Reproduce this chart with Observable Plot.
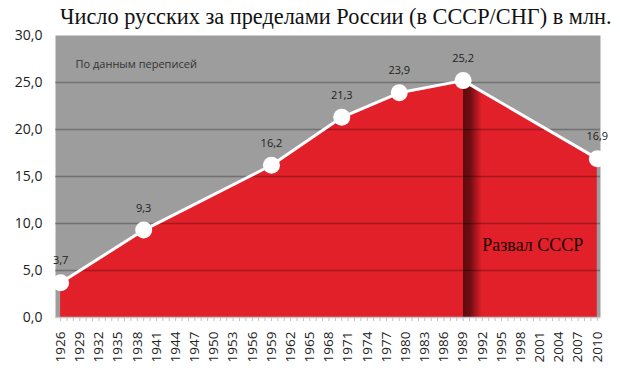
<!DOCTYPE html>
<html><head><meta charset="utf-8">
<script src="https://cdn.jsdelivr.net/npm/d3@7"></script>
<script src="https://cdn.jsdelivr.net/npm/@observablehq/plot@0.6"></script>
<style>
body{margin:0;background:#fff;}
#wrap{position:relative;width:620px;height:373px;}
#title{position:absolute;left:60px;top:2px;font-family:"Liberation Serif","DejaVu Serif",serif;font-size:22.3px;color:#111;line-height:30px;white-space:nowrap;}
#chart svg{display:block;}
</style></head>
<body>
<div id="wrap">
<div id="chart"></div>
<div id="title">Число русских за пределами России (в СССР/СНГ) в млн.</div>
</div>
<script>
const years = [1926, 1939, 1959, 1970, 1979, 1989, 2010];
const values = [3.7, 9.3, 16.2, 21.3, 23.9, 25.2, 16.9];
const labels = ["3,7", "9,3", "16,2", "21,3", "23,9", "25,2", "16,9"];
const yTicks = [0, 5, 10, 15, 20, 25, 30];
const xLabelTicks = d3.range(1926, 2011, 3);
const xMinorTicks = d3.range(1926, 2011, 1);
const collapseYear = 1989;
const collapseEnd = 1992;
const noteText = "По данным переписей";
const collapseText = "Развал СССР";

const data = years.map((y, i) => ({year: y, value: values[i], label: labels[i]}));
const span = years[years.length-1] - years[0];
const o1 = (collapseYear - years[0]) / span;
const o2 = (collapseEnd - years[0]) / span;
const red = "#e2202a";
const dark = "#5a0a0e";

const plot = Plot.plot({
  width: 620,
  height: 373,
  marginLeft: 55,
  marginRight: 20,
  marginTop: 35,
  marginBottom: 56,
  style: {fontFamily: "'Open Sans', sans-serif", fontSize: "13px", color: "#222", background: "transparent"},
  x: {domain: [1925.2, 2010.5], label: null},
  y: {domain: [0, 30], label: null},
  marks: [
    Plot.frame({fill: "#9d9d9d", stroke: null}),
    () => {
      const svg = d3.create("svg:defs");
      const g = svg.append("linearGradient").attr("id", "bandGrad").attr("x1", 0).attr("x2", 1).attr("y1", 0).attr("y2", 0);
      [[0, red], [o1, red], [o1, dark], [o1 + 0.014, "#6e0d12"], [o2, red], [1, red]].forEach(([o, c]) =>
        g.append("stop").attr("offset", o).attr("stop-color", c));
      return svg.node();
    },
    Plot.areaY(data, {x: "year", y: "value", fill: "url(#bandGrad)"}),
    Plot.ruleY([5, 10, 15, 20, 25], {stroke: "#000", strokeOpacity: 0.28, strokeWidth: 1.3}),
    Plot.line(data, {x: "year", y: "value", stroke: "#fff", strokeWidth: 3}),
    Plot.dot(data, {x: "year", y: "value", r: 8.5, fill: "#fff", stroke: null}),
    Plot.text(data, {x: "year", y: "value", text: "label", dy: -22, fontSize: 11, fill: "#222"}),
    Plot.text([noteText], {frameAnchor: "top-left", dx: 20, dy: 25, fontSize: 11, fill: "#333", textAnchor: "start"}),
    Plot.text([collapseText], {x: [1999.9], y: [7.7], fontSize: 18, fill: "#1a0000", fontFamily: "'Liberation Serif', serif"}),
    Plot.axisY({ticks: yTicks, tickFormat: d => d.toFixed(1).replace(".", ","), tickSize: 0, tickPadding: 13, fontSize: 14, fill: "#222"}),
    Plot.ruleY([0], {stroke: "#c8c8c8", strokeWidth: 1.5}),
    Plot.axisX({ticks: xMinorTicks, tickFormat: () => "", tickSize: 4, stroke: "#c0c0c0", label: null}),
    Plot.axisX({ticks: xLabelTicks, tickFormat: d => String(d), tickSize: 0, tickRotate: -90, tickPadding: 14, fontSize: 13.5, fill: "#222", label: null})
  ]
});
document.getElementById("chart").appendChild(plot);
</script>
</body></html>
